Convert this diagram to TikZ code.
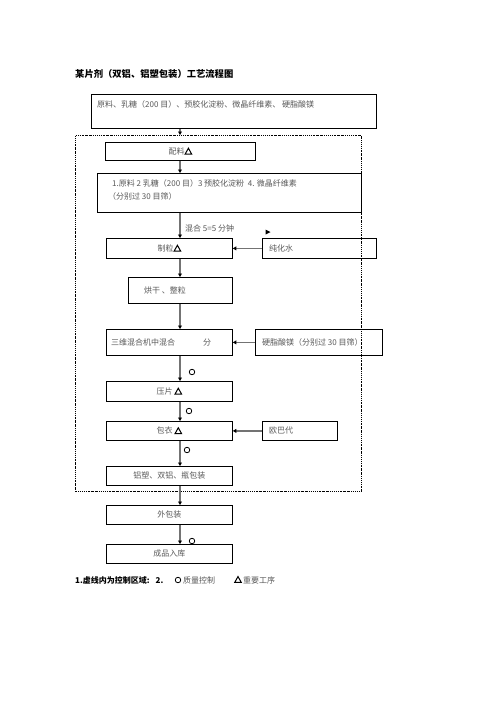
\documentclass[tikz,border=0pt]{standalone}
\usepackage{fontspec}
\newfontfamily\cjk{Noto Sans CJK SC}
\usetikzlibrary{arrows.meta}
\tikzset{
  box/.style={draw=black, line width=0.8pt, inner sep=0, anchor=north west},
  cbox/.style={box, font=\cjk\fontsize{8}{10}\selectfont, text=black!65},
  txt/.style={font=\cjk\fontsize{8}{10}\selectfont, text=black!65, inner sep=0, anchor=west},
  flow/.style={draw=black!55, line width=1.3pt, -{Triangle[length=3.5pt,width=3.8pt,color=black]}},
  qc/.style={circle, draw=black, line width=0.8pt, minimum size=5.5pt, inner sep=0}
}
\newcommand{\tr}{\tikz[baseline=0pt,x=1pt,y=1pt]\draw[black,line width=1pt,line join=miter] (0,0.3)--(6.6,0.3)--(3.3,6.2)--cycle;}
\begin{document}
\begin{tikzpicture}[x=1pt,y=-1pt]
\useasboundingbox[fill=white] (0,0) rectangle (496,702);
\coordinate (main) at (180,0);
% title
\node[font=\cjk\bfseries\fontsize{9.3}{11}\selectfont, anchor=west, inner sep=0] (title) at (75,74) {某片剂（双铝、铝塑包装）工艺流程图};
% control region
\node[box, draw=black, line width=0.8pt, dash pattern=on 1.6pt off 1pt on 0.6pt off 1pt, minimum width=286pt, minimum height=356pt] (ctrl) at (75,135) {};
% boxes
\node[box, minimum width=285pt, minimum height=34pt] (b1) at (91,94) {};
\node[txt] (b1t) at (97,104) {原料、乳糖（200 目）、预胶化淀粉、微晶纤维素、 硬脂酸镁};
\node[cbox, minimum width=150pt, minimum height=18pt] (pl) at (105,142) {配料\tr};
\node[box, minimum width=264pt, minimum height=39pt] (b2) at (97,173) {};
\node[txt] (b2t) at (112,183) {1.原料 2 乳糖（200 目）3 预胶化淀粉 \ 4. 微晶纤维素};
\node[txt] (b2u) at (108,196) {（分别过 30 目筛）};
\node[cbox, minimum width=126pt, minimum height=20pt] (zl) at (106,238) {制粒\tr};
\node[box, minimum width=114pt, minimum height=20pt] (chs) at (262,238) {};
\node[txt] (chst) at (269,248) {纯化水};
\node[box, minimum width=104pt, minimum height=26pt] (hg) at (128,277) {};
\node[txt] (hgt) at (144,290) {烘干 、整粒};
\node[box, minimum width=126pt, minimum height=26pt] (sw) at (106,329) {};
\node[txt] (swt) at (111,342) {三维混合机中混合\hspace{28pt}分};
\node[box, minimum width=127pt, minimum height=26pt] (yz) at (255,329) {};
\node[txt] (yzt) at (262,342) {硬脂酸镁（分别过 30 目筛）};
\node[cbox, minimum width=126pt, minimum height=20pt] (yp) at (106,381) {压片 \tr};
\node[cbox, minimum width=126pt, minimum height=19pt] (by) at (106,421) {包衣 \tr};
\node[box, minimum width=75pt, minimum height=19pt] (obd) at (262,421) {};
\node[txt] (obdt) at (269,430.5) {欧巴代};
\node[cbox, minimum width=126pt, minimum height=19pt] (ls) at (106,466) {铝塑、双铝、瓶包装};
\node[cbox, minimum width=126pt, minimum height=19pt] (wb) at (106,505) {外包装};
\node[cbox, minimum width=126pt, minimum height=19pt] (cp) at (106,544) {成品入库};
% main flow
\draw[flow] (b1.south -| main) -- (ctrl.north -| main);
\draw[flow] (pl.south -| main) -- (b2.north -| main);
\draw[flow] (b2.south -| main) -- (zl.north -| main);
\draw[flow] (zl.south -| main) -- (hg.north -| main);
\draw[flow] (hg.south -| main) -- (sw.north -| main);
\draw[flow] (sw.south -| main) -- (yp.north -| main);
\draw[flow] (yp.south -| main) -- (by.north -| main);
\draw[flow] (by.south -| main) -- (ls.north -| main);
\draw[flow] (ls.south -| main) -- (wb.north -| main);
\draw[flow] (wb.south -| main) -- (cp.north -| main);
% side inputs
\draw[flow] (chs.west) -- (zl.east);
\draw[flow] (yz.west) -- (sw.east);
\draw[flow] (obd.west) -- (by.east);
% mixing label and stray tip
\node[txt] (mix) at (185,228) {混合 5=5 分钟};
\fill[black] (265.5,229.5) -- (270.5,232) -- (265.5,234.5) -- cycle;
% quality control marks
\node[qc] (q1) at (192,372) {};
\node[qc] (q2) at (189,411) {};
\node[qc] (q3) at (187,450) {};
\node[qc] (q4) at (192,541) {};
% legend
\node[font=\cjk\bfseries\fontsize{8}{10}\selectfont, anchor=west, inner sep=0] (lg1) at (75,580) {1.虚线内为控制区域:\hspace{6pt}2.};
\node[qc] (lgc) at (178,580) {};
\node[txt] (lg2) at (183,580) {质量控制};
\node[inner sep=0] (lgt) at (238,579.5) {\tr};
\node[txt] (lg3) at (243,580) {重要工序};
\end{tikzpicture}
\end{document}
